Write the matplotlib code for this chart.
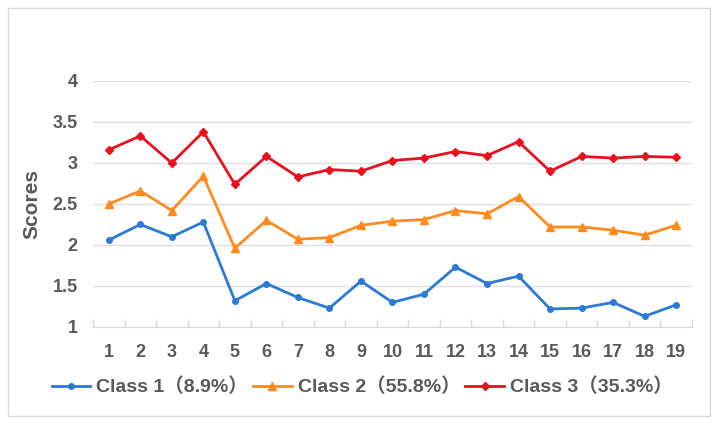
import matplotlib
matplotlib.use('Agg')
import matplotlib.pyplot as plt
from matplotlib.patches import Rectangle

plt.rcParams['font.family'] = ['Liberation Sans', 'Noto Sans CJK SC', 'DejaVu Sans']

groups = list(range(1, 20))
class1 = [2.06, 2.25, 2.10, 2.28, 1.32, 1.53, 1.36, 1.23, 1.56, 1.30,
          1.40, 1.73, 1.53, 1.62, 1.22, 1.23, 1.30, 1.13, 1.27]
class2 = [2.50, 2.66, 2.42, 2.84, 1.96, 2.30, 2.07, 2.09, 2.24, 2.29,
          2.31, 2.42, 2.38, 2.59, 2.22, 2.22, 2.18, 2.12, 2.24]
class3 = [3.16, 3.33, 3.00, 3.38, 2.74, 3.08, 2.83, 2.92, 2.90, 3.03,
          3.06, 3.14, 3.09, 3.26, 2.90, 3.08, 3.06, 3.08, 3.07]
labels = ['Class 1（8.9%）', 'Class 2（55.8%）', 'Class 3（35.3%）']
yticks = [1, 1.5, 2, 2.5, 3, 3.5, 4]

txt = '#595959'
fig = plt.figure(figsize=(7.17, 4.24), dpi=100)
# outer chart border
fig.patches.append(Rectangle((8 / 717, 8 / 424), 702 / 717, 408 / 424,
                             transform=fig.transFigure, fill=False,
                             edgecolor='#d9d9d9', linewidth=1))
ax = fig.add_axes([0.1297, 0.2288, 0.8353, 0.5802])

ax.plot(groups, class1, '-o', color='#2a7ad6', lw=2, ms=4, label=labels[0])
ax.plot(groups, class2, '-^', color='#ff8a1e', lw=2, ms=6, label=labels[1])
ax.plot(groups, class3, '-D', color='#e8111f', lw=2, ms=4.5, label=labels[2])

ax.set_xlim(0.5, 19.5)
ax.set_ylim(1, 4)
ax.set_yticks(yticks)
ax.set_yticklabels(['1', '1.5', '2', '2.5', '3', '3.5', '4'])
ax.set_xticks(groups)
ax.set_xticks([g - 0.5 for g in groups] + [19.5], minor=True)
ax.tick_params(axis='x', which='major', length=0, pad=12)
ax.tick_params(axis='x', which='minor', direction='in', length=6,
               color='#d9d9d9', width=1)
ax.tick_params(axis='y', length=0, pad=11)
for lab in ax.get_xticklabels() + ax.get_yticklabels():
    lab.set_fontsize(13)
    lab.set_fontweight('bold')
    lab.set_color(txt)

ax.grid(axis='y', color='#e0e0e0', lw=1)
ax.set_axisbelow(True)
for s in ['top', 'right', 'left']:
    ax.spines[s].set_visible(False)
ax.spines['bottom'].set_color('#d9d9d9')
ax.set_ylabel('Scores', fontsize=15, fontweight='bold', color=txt, labelpad=8)

leg = fig.legend(loc='center', bbox_to_anchor=(0.505, 0.087), ncol=3,
                 frameon=False, handlelength=2.0, columnspacing=0.25,
                 handletextpad=0.3,
                 prop={'size': 14, 'weight': 'bold'})
for t in leg.get_texts():
    t.set_color(txt)

fig.savefig('out.png', dpi=100)
